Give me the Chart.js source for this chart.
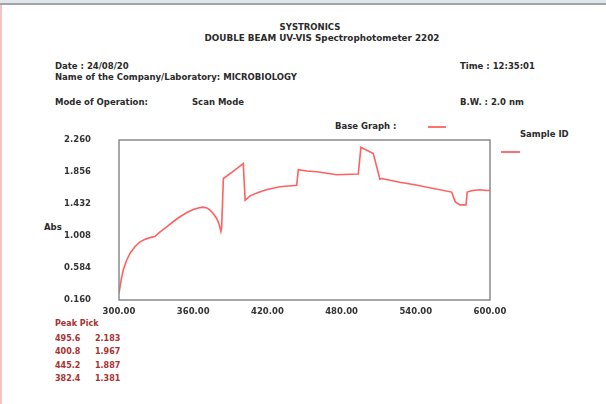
<!DOCTYPE html>
<html>
<head>
<meta charset="utf-8">
<script src="https://cdn.jsdelivr.net/npm/chart.js@4"></script>
<style>
  body { margin: 0; background: #fff; width: 606px; height: 404px; overflow: hidden; position: relative; font-family: "DejaVu Sans", sans-serif; }
  #topbar { position: absolute; left: 0; top: 0; width: 606px; height: 3px; background: #dfe6ee; border-bottom: 2px solid #a4a4a4; }
  #leftline { position: absolute; left: 0; top: 5px; width: 2px; height: 399px; background: #f3c4c4; }
  .t { position: absolute; font-size: 8.5px; line-height: 10px; font-weight: bold; color: #2a2a2a; white-space: nowrap; }
  .pk { position: absolute; font-size: 8px; line-height: 10px; font-weight: bold; color: #a83232; white-space: nowrap; }
  .key { position: absolute; height: 2px; background: #ff7070; }
  canvas { position: absolute; left: 0; top: 0; }
</style>
</head>
<body>
<div id="topbar"></div>
<div id="leftline"></div>

<div class="t" style="left:0;width:620px;text-align:center;top:22px">SYSTRONICS</div>
<div class="t" style="left:0;width:644px;text-align:center;top:33px;font-size:8.8px">DOUBLE BEAM UV-VIS Spectrophotometer 2202</div>
<div class="t" style="left:55px;top:61px">Date : 24/08/20</div>
<div class="t" style="left:55px;top:72px">Name of the Company/Laboratory: MICROBIOLOGY</div>
<div class="t" style="left:460px;top:61px">Time : 12:35:01</div>
<div class="t" style="left:55px;top:97px">Mode of Operation:</div>
<div class="t" style="left:192px;top:97px">Scan Mode</div>
<div class="t" style="left:460px;top:97px">B.W. : 2.0 nm</div>
<div class="t" style="left:335px;top:121px">Base Graph :</div>
<div class="key" style="left:428px;top:126px;width:18px"></div>
<div class="t" style="left:520px;top:129px">Sample ID</div>
<div class="key" style="left:501px;top:151px;width:19px"></div>
<div class="t" style="left:44px;top:222px">Abs</div>

<div id="peaks"></div>

<canvas id="myChart" width="606" height="404"></canvas>

<script>
// Spectrum
var wavelength = [300, 302, 303.5, 306, 309, 313, 317, 322, 326, 329, 333, 338.6, 344, 349, 355, 360, 364, 368, 371, 373.6, 376, 379, 381, 382.4, 383, 384.4, 392, 400.5, 402, 406, 412, 419, 430, 443.7, 445, 452, 460, 468, 476, 493.5, 495.6, 505.6, 511, 512.4, 527, 538, 569, 570.5, 572, 575.7, 580.6, 581.6, 586, 592, 597, 600];
var absorbance = [0.25, 0.45, 0.56, 0.68, 0.78, 0.87, 0.93, 0.97, 0.99, 1.0, 1.06, 1.13, 1.2, 1.26, 1.32, 1.36, 1.38, 1.39, 1.38, 1.35, 1.31, 1.24, 1.16, 1.07, 1.12, 1.77, 1.86, 1.967, 1.48, 1.54, 1.58, 1.62, 1.66, 1.68, 1.887, 1.87, 1.86, 1.84, 1.82, 1.83, 2.183, 2.10, 1.76, 1.77, 1.72, 1.69, 1.59, 1.52, 1.46, 1.42, 1.42, 1.59, 1.61, 1.62, 1.61, 1.61];

var yTickLabels = ["0.160", "0.584", "1.008", "1.432", "1.856", "2.260"];
var xTickLabels = ["300.00", "360.00", "420.00", "480.00", "540.00", "600.00"];

var peakWl = ["495.6", "400.8", "445.2", "382.4"];
var peakAbs = ["2.183", "1.967", "1.887", "1.381"];

// Peak Pick table
var peakBox = document.getElementById("peaks");
var html = '<div class="pk" style="left:55px;top:319px">Peak Pick</div>';
for (var i = 0; i < peakWl.length; i++) {
  var rowTop = 334 + i * 13.4;
  html += '<div class="pk" style="left:55px;top:' + rowTop + 'px">' + peakWl[i] + '</div>';
  html += '<div class="pk" style="left:95px;top:' + rowTop + 'px">' + peakAbs[i] + '</div>';
}
peakBox.innerHTML = html;

var points = wavelength.map((w, i) => ({ x: w, y: absorbance[i] }));

// box round the plot area
const frame = {
  id: "frame",
  afterDraw(chart) {
    const a = chart.chartArea, c = chart.ctx;
    c.save();
    c.strokeStyle = "#8a8a8a";
    c.lineWidth = 1.5;
    c.strokeRect(a.left, a.top, a.right - a.left, a.bottom - a.top);
    c.restore();
  }
};

var tickFont = { size: 8.5, weight: "bold", family: "DejaVu Sans" };

var ctx = document.getElementById("myChart");
var chart = new Chart(ctx, {
  type: "scatter",
  data: {
    datasets: [{
      data: points,
      showLine: true,
      borderColor: "#ff6060",
      borderWidth: 1.6,
      pointRadius: 0,
      tension: 0
    }]
  },
  options: {
    responsive: false,
    animation: false,
    layout: { padding: { left: 40, right: 116, top: 140, bottom: 84 } },
    plugins: { legend: { display: false }, tooltip: { enabled: false } },
    scales: {
      x: {
        type: "linear", min: 300, max: 600,
        grid: { drawOnChartArea: false, drawTicks: false },
        border: { display: false },
        afterBuildTicks: s => { s.ticks = xTickLabels.map(v => ({ value: parseFloat(v) })); },
        afterFit: s => { s.height = 20; },
        ticks: {
          padding: 7, color: "#333", font: tickFont,
          maxRotation: 0,
          callback: (v, i) => xTickLabels[i]
        }
      },
      y: {
        min: 0.16, max: 2.28,
        grid: { drawOnChartArea: false, drawTicks: false },
        border: { display: false },
        afterBuildTicks: s => { s.ticks = yTickLabels.map((v, i) => ({ value: 0.16 + 0.424 * i })); },
        afterFit: s => { s.width = 79; },
        ticks: {
          padding: 28, color: "#333", font: tickFont,
          callback: (v, i) => yTickLabels[i]
        }
      }
    }
  },
  plugins: [frame]
});
</script>
</body>
</html>
